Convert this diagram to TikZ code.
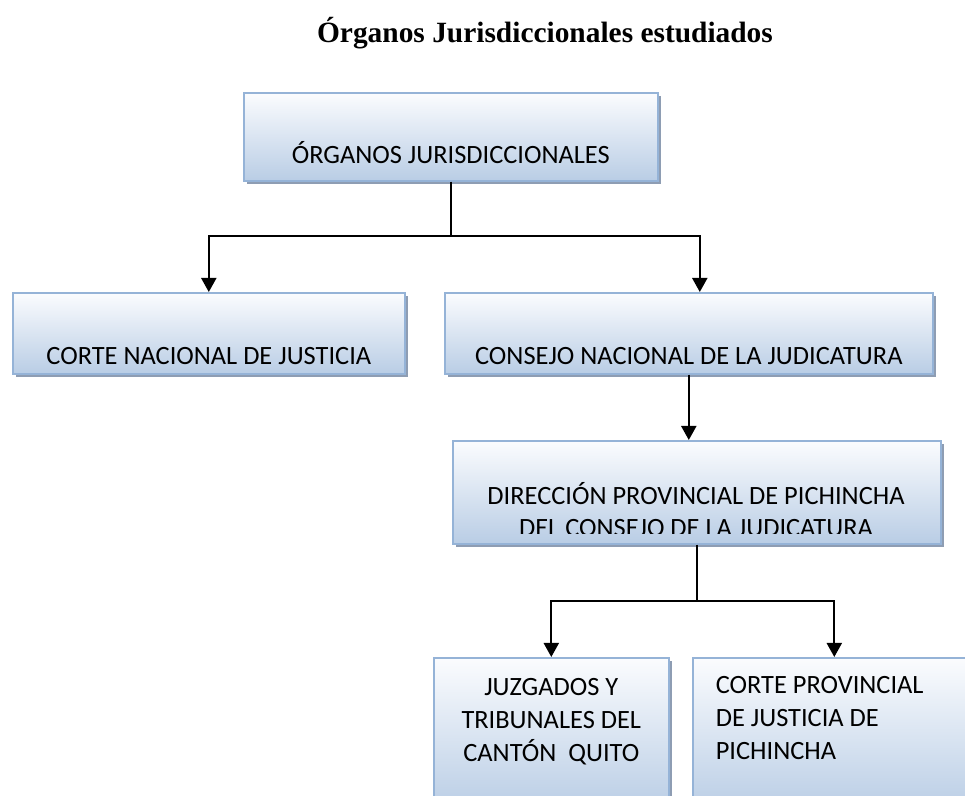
\documentclass[tikz,border=0pt]{standalone}
\usepackage{fontspec}
\setmainfont{Liberation Serif}
\newfontfamily\calibri{Carlito}
\usepackage{tikz}
\usetikzlibrary{arrows.meta, shadows, positioning, calc}

\definecolor{boxline}{HTML}{95B3D7}
\definecolor{boxtop}{HTML}{FBFCFE}
\definecolor{boxbottom}{HTML}{B9CDE5}
\definecolor{boxshadow}{HTML}{8E9DB3}

\begin{document}
\begin{tikzpicture}[
        x=0.5pt, y=-0.5pt,
        >={Triangle[length=7pt, width=7.5pt]},
        block/.style={rectangle, draw=boxline, line width=0.8pt, top color=boxtop, bottom color=boxbottom, drop shadow={shadow xshift=1.8pt, shadow yshift=-1.8pt, fill=boxshadow, opacity=1}, anchor=north west, inner sep=0pt, font=\calibri\fontsize{13.2pt}{16.5pt}\selectfont, align=flush center},
        line/.style={draw, line width=1pt},
        title/.style={font=\bfseries\fontsize{14.7pt}{17pt}\selectfont, anchor=base}
    ]
        \useasboundingbox (0,0) rectangle (965,796);

        % Title
        \node [title] (titulo) at (545,43) {Órganos Jurisdiccionales estudiados};

        % Boxes
        \node [block, minimum width=207pt, text height=35.5pt, text depth=8.5pt] (organos) at (243,92) {ÓRGANOS JURISDICCIONALES};
        \node [block, minimum width=196pt, text height=36pt, text depth=4.5pt] (corte_nac) at (12,292) {CORTE NACIONAL DE JUSTICIA};
        \node [block, minimum width=244pt, text height=36pt, text depth=4.5pt] (consejo) at (444,292) {CONSEJO NACIONAL DE LA JUDICATURA};
        \node [block, minimum width=244pt, minimum height=51.5pt] (direccion) at (452,440) {};
        \begin{scope}
            \clip (direccion.north west) rectangle ([yshift=5.5pt]direccion.south east);
            \node [font=\calibri\fontsize{13.2pt}{16pt}\selectfont, text width=240pt, align=flush center, anchor=base, inner sep=0pt] (direccion_txt) at (696,505) {DIRECCIÓN PROVINCIAL DE PICHINCHA\\DEL CONSEJO DE LA JUDICATURA};
        \end{scope}
        \node [block, text width=117.5pt, text height=19pt, text depth=57.5pt] (juzgados) at (433,657) {JUZGADOS Y\\TRIBUNALES DEL\\CANTÓN\ \ QUITO};
        \node [block, inner xsep=11.5pt, text width=118.5pt, align=flush left, text height=18pt, text depth=59pt] (corte_prov) at (692,657) {CORTE PROVINCIAL\\DE JUSTICIA DE\\PICHINCHA};

        % Paths
        \path [line] (organos.south) -- ++(0,54) coordinate (rama1);
        \path [line, ->] (rama1) -| (corte_nac.north);
        \path [line, ->] (rama1) -| ([xshift=5.5pt]consejo.north);
        \path [line, ->] (consejo.south) -- (consejo.south |- direccion.north);
        \path [line] (direccion.south) -- ++(0,56) coordinate (rama2);
        \path [line, ->] (rama2) -| (juzgados.north);
        \path [line, ->] (rama2) -| (corte_prov.north);

    \end{tikzpicture}
\end{document}
